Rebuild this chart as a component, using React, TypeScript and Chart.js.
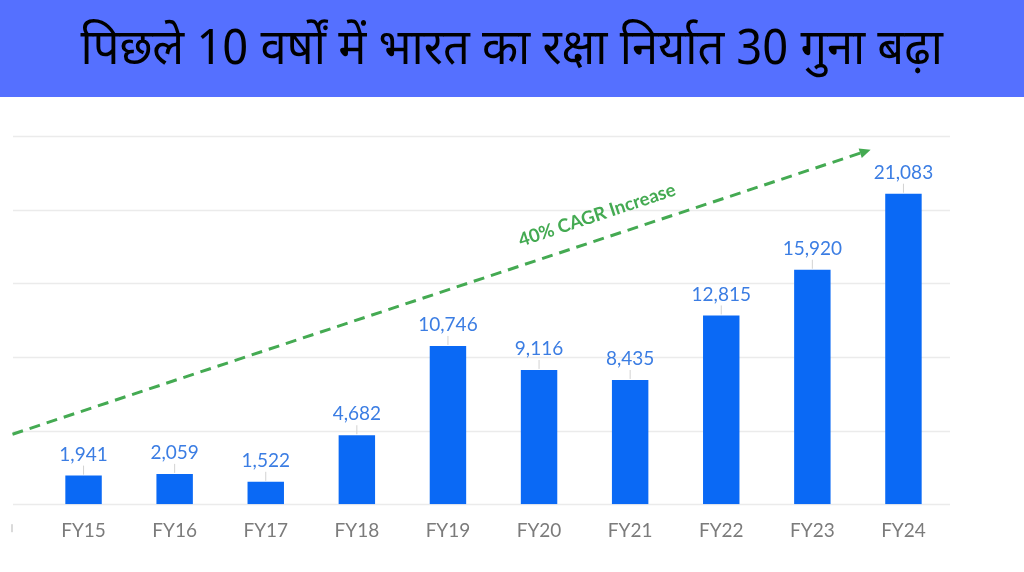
import React, { useEffect, useRef } from "react";
import { Chart, registerables } from "chart.js";

Chart.register(...registerables);

const TITLE = "पिछले 10 वर्षों में भारत का रक्षा निर्यात 30 गुना बढ़ा";
const categories = ["FY15", "FY16", "FY17", "FY18", "FY19", "FY20", "FY21", "FY22", "FY23", "FY24"];
const exportValues = [1941, 2059, 1522, 4682, 10746, 9116, 8435, 12815, 15920, 21083];
const yTicks = [0, 5000, 10000, 15000, 20000, 25000];
// trend arrow expressed in data space: [category index, value]
const trendStart = [-0.78, 4750];
const trendEnd = [8.64, 24070];
const trendLabel = "40% CAGR Increase";

const FONT = "Lato, 'Open Sans', sans-serif";
const BAR_COLOR = "#0a69f5";
const LABEL_COLOR = "#3b7de3";
const GREEN = "#44aa52";

const gridPlugin = {
  id: "customGrid",
  beforeDatasetsDraw(chart: any) {
    const { ctx, chartArea, scales } = chart;
    const y = scales.y;
    ctx.save();
    ctx.strokeStyle = "#ebebeb";
    ctx.lineWidth = 1.5;
    yTicks.forEach((v) => {
      const py = Math.round(y.getPixelForValue(v)) + 0.5;
      ctx.beginPath();
      ctx.moveTo(chartArea.left - 25, py);
      ctx.lineTo(chartArea.right + 1, py);
      ctx.stroke();
    });
    // small stub at left of the label row
    ctx.strokeStyle = "#b5b5b5";
    ctx.lineWidth = 1;
    const by = y.getPixelForValue(0);
    ctx.beginPath();
    ctx.moveTo(chartArea.left - 26, by + 20);
    ctx.lineTo(chartArea.left - 26, by + 28);
    ctx.stroke();
    ctx.restore();
  },
};

const labelPlugin = {
  id: "barLabels",
  afterDatasetsDraw(chart: any) {
    const { ctx } = chart;
    const meta = chart.getDatasetMeta(0);
    ctx.save();
    meta.data.forEach((bar: any, i: number) => {
      const x = bar.x;
      const top = bar.y;
      ctx.strokeStyle = "#d2d2d2";
      ctx.lineWidth = 1;
      ctx.beginPath();
      ctx.moveTo(x, top - 1);
      ctx.lineTo(x, top - 10);
      ctx.stroke();
      ctx.fillStyle = LABEL_COLOR;
      ctx.font = `19px ${FONT}`;
      ctx.textAlign = "center";
      ctx.textBaseline = "middle";
      ctx.fillText(exportValues[i].toLocaleString("en-US"), x, top - 21);
    });
    ctx.restore();
  },
};

const trendPlugin = {
  id: "trendArrow",
  afterDatasetsDraw(chart: any) {
    const { ctx, scales } = chart;
    const x1 = scales.x.getPixelForValue(trendStart[0]);
    const y1 = scales.y.getPixelForValue(trendStart[1]);
    const x2 = scales.x.getPixelForValue(trendEnd[0]);
    const y2 = scales.y.getPixelForValue(trendEnd[1]);
    const ang = Math.atan2(y2 - y1, x2 - x1);
    const head = 11;
    ctx.save();
    ctx.strokeStyle = GREEN;
    ctx.fillStyle = GREEN;
    ctx.lineWidth = 3;
    ctx.setLineDash([11, 7]);
    ctx.beginPath();
    ctx.moveTo(x1, y1);
    ctx.lineTo(x2 - head * Math.cos(ang), y2 - head * Math.sin(ang));
    ctx.stroke();
    ctx.setLineDash([]);
    ctx.beginPath();
    ctx.moveTo(x2, y2);
    ctx.lineTo(
      x2 - head * Math.cos(ang) + 5 * Math.sin(ang),
      y2 - head * Math.sin(ang) - 5 * Math.cos(ang)
    );
    ctx.lineTo(
      x2 - head * Math.cos(ang) - 5 * Math.sin(ang),
      y2 - head * Math.sin(ang) + 5 * Math.cos(ang)
    );
    ctx.closePath();
    ctx.fill();
    // label
    const t = 0.69;
    const lx = x1 + (x2 - x1) * t + 24 * Math.sin(ang);
    const ly = y1 + (y2 - y1) * t - 24 * Math.cos(ang);
    ctx.translate(lx, ly);
    ctx.rotate(ang);
    ctx.font = `bold 18.5px ${FONT}`;
    ctx.textAlign = "center";
    ctx.textBaseline = "middle";
    ctx.fillText(trendLabel, 0, 0);
    ctx.restore();
  },
};

export default function App() {
  const ref = useRef<HTMLCanvasElement | null>(null);

  useEffect(() => {
    if (!ref.current) return;
    const chart = new Chart(ref.current, {
      type: "bar",
      data: {
        labels: categories,
        datasets: [
          {
            data: exportValues,
            backgroundColor: BAR_COLOR,
            borderWidth: 0,
            barPercentage: 0.4,
            categoryPercentage: 1,
          },
        ],
      },
      options: {
        animation: false,
        responsive: true,
        maintainAspectRatio: false,
        layout: { padding: { top: 39, left: 38, right: 75, bottom: 15 } },
        plugins: {
          legend: { display: false },
          tooltip: { enabled: false },
          title: { display: false },
        },
        scales: {
          x: {
            grid: { display: false, drawTicks: false },
            border: { display: false },
            ticks: {
              color: "#7b7b7b",
              font: { family: FONT, size: 19 },
              padding: 15,
            },
          },
          y: {
            display: false,
            min: 0,
            max: 25000,
            ticks: { stepSize: 5000 },
          },
        },
      },
      plugins: [gridPlugin, labelPlugin, trendPlugin],
    });
    return () => chart.destroy();
  }, []);

  return (
    <div
      style={{
        position: "absolute",
        left: 0,
        top: 0,
        width: 1024,
        height: 572,
        background: "#ffffff",
        overflow: "hidden",
      }}
    >
      <div
        style={{
          position: "absolute",
          left: 0,
          top: 0,
          width: 1024,
          height: 97,
          background: "#5570ff",
          display: "flex",
          alignItems: "center",
          justifyContent: "center",
          color: "#000",
          fontFamily: "'Noto Sans Devanagari', 'Noto Sans', Lato, sans-serif",
          fontSize: 50,
          whiteSpace: "nowrap",
        }}
      >
        <span style={{ display: "inline-block", transform: "scaleX(0.94) translateY(3px)" }}>{TITLE}</span>
      </div>
      <div style={{ position: "absolute", left: 0, top: 97, width: 1024, height: 475 }}>
        <canvas ref={ref} />
      </div>
    </div>
  );
}
